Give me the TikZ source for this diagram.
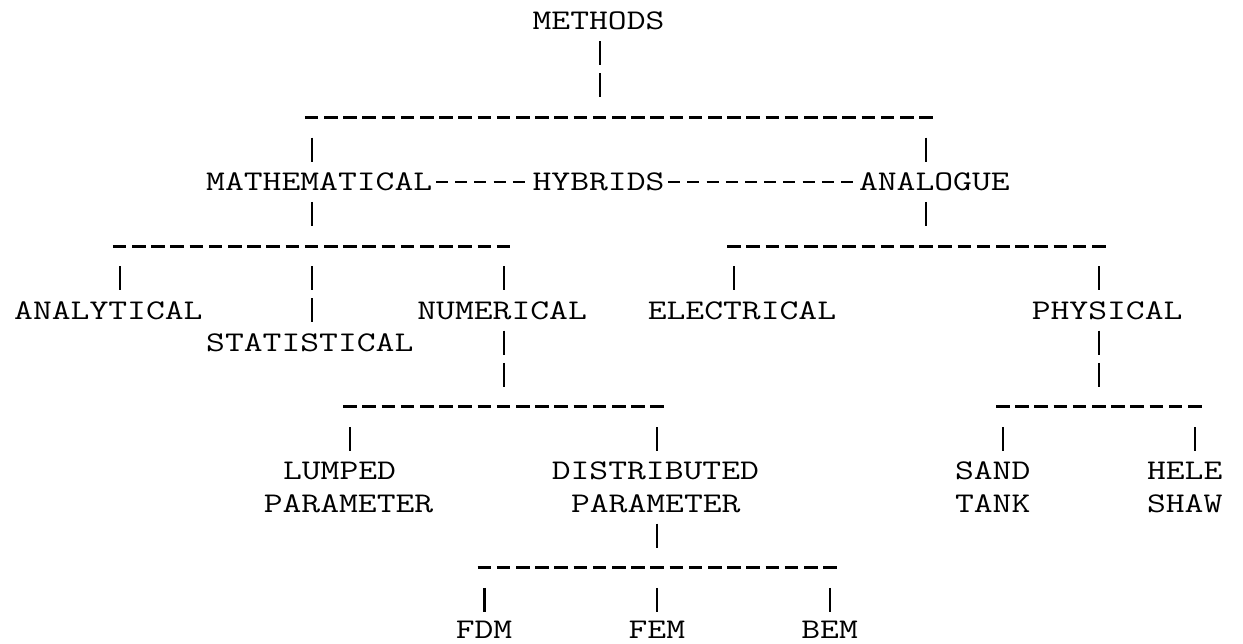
\documentclass[tikz,border=0pt]{standalone}
\usepackage{fontspec}
\newcommand{\tw}[1]{\scalebox{1.2832}[1]{#1}}
\begin{document}
\begin{tikzpicture}[x=19.2pt, y=-32.16pt,
    lbl/.style={anchor=west, inner sep=0pt, font=\fontsize{28.5}{30}\selectfont\ttfamily\addfontfeatures{FakeBold=1.5}},
    vbar/.style={line width=2.2pt, dash pattern=on 24pt off 8.16pt},
    dashrow/.style={line width=3pt, dash pattern=on 13.5pt off 5.7pt, shorten <=2.85pt, shorten >=2.85pt},
    hyph/.style={line width=2.4pt, dash pattern=on 12pt off 7.2pt, shorten <=3.6pt, shorten >=3.6pt}]
    \useasboundingbox (-0.7292,-0.653) rectangle (64.0104,19.3719);

    % top
    \node[lbl] (methods) at (27,0) {\tw{METHODS}};
    \draw[vbar] (30.5,1) ++(0,-.373) -- (30.5,2.373);
    \draw[dashrow] (15,3) -- (48,3);
    \draw[vbar] (15.5,4) ++(0,-.373) -- ++(0,.746);
    \draw[vbar] (47.5,4) ++(0,-.373) -- ++(0,.746);

    % second level
    \node[lbl] (math)     at (10,5) {\tw{MATHEMATICAL}};
    \node[lbl] (hybrids)  at (27,5) {\tw{HYBRIDS}};
    \node[lbl] (analogue) at (44,5) {\tw{ANALOGUE}};
    \draw[hyph] (math.east) -- (hybrids.west);
    \draw[hyph] (hybrids.east) -- (analogue.west);
    \draw[vbar] (15.5,6) ++(0,-.373) -- ++(0,.746);
    \draw[vbar] (47.5,6) ++(0,-.373) -- ++(0,.746);
    \draw[dashrow] (5,7) -- (26,7);
    \draw[dashrow] (37,7) -- (57,7);

    % third level
    \foreach \c in {5,25,37,56}
        \draw[vbar] (\c+.5,8) ++(0,-.373) -- ++(0,.746);
    \draw[vbar] (15.5,8) ++(0,-.373) -- (15.5,9.373);
    \node[lbl] (analytical)  at (0,9)   {\tw{ANALYTICAL}};
    \node[lbl] (numerical)   at (21,9)  {\tw{NUMERICAL}};
    \node[lbl] (electrical)  at (33,9)  {\tw{ELECTRICAL}};
    \node[lbl] (physical)    at (53,9)  {\tw{PHYSICAL}};
    \node[lbl] (statistical) at (10,10) {\tw{STATISTICAL}};
    \draw[vbar] (25.5,10) ++(0,-.373) -- (25.5,11.373);
    \draw[vbar] (56.5,10) ++(0,-.373) -- (56.5,11.373);
    \draw[dashrow] (17,12) -- (34,12);
    \draw[dashrow] (51,12) -- (62,12);
    \foreach \c in {17,33,51,61}
        \draw[vbar] (\c+.5,13) ++(0,-.373) -- ++(0,.746);

    % fourth level
    \node[lbl] (lumped)       at (14,14) {\tw{LUMPED}};
    \node[lbl] (lumpedb)      at (13,15) {\tw{PARAMETER}};
    \node[lbl] (distributed)  at (28,14) {\tw{DISTRIBUTED}};
    \node[lbl] (distributedb) at (29,15) {\tw{PARAMETER}};
    \node[lbl] (sand)         at (49,14) {\tw{SAND}};
    \node[lbl] (tank)         at (49,15) {\tw{TANK}};
    \node[lbl] (hele)         at (59,14) {\tw{HELE}};
    \node[lbl] (shaw)         at (59,15) {\tw{SHAW}};
    \draw[vbar] (33.5,16) ++(0,-.373) -- ++(0,.746);
    \draw[dashrow] (24,17) -- (43,17);
    \foreach \c in {24,33,42}
        \draw[vbar] (\c+.5,18) ++(0,-.373) -- ++(0,.746);
    \node[lbl] (fdm) at (23,18.93) {\tw{FDM}};
    \node[lbl] (fem) at (32,18.93) {\tw{FEM}};
    \node[lbl] (bem) at (41,18.93) {\tw{BEM}};
\end{tikzpicture}
\end{document}
